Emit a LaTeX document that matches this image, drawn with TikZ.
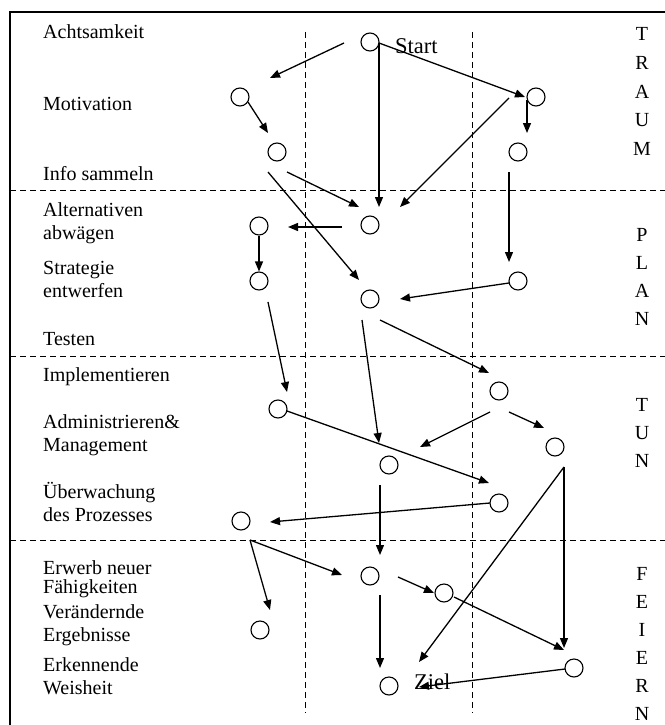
\documentclass[tikz,border=0pt]{standalone}
\usepackage{fontspec}
\setmainfont{Liberation Serif}
\usetikzlibrary{arrows.meta}
\tikzset{
  stage/.style={circle, draw, line width=1.1pt, minimum size=18pt, inner sep=0pt},
  arr/.style={-{Triangle[length=10pt,width=8pt]}, line width=1.3pt},
  sep/.style={dash pattern=on 6pt off 4pt, line width=1pt},
  lbl/.style={anchor=base west, align=left, inner sep=0pt,
              font=\fontsize{20}{23}\selectfont},
  letter/.style={anchor=base, inner sep=0pt, font=\fontsize{20}{23}\selectfont},
  endlbl/.style={anchor=base west, inner sep=0pt, font=\fontsize{22.5}{26}\selectfont},
}
\begin{document}
\begin{tikzpicture}[x=1pt, y=-1pt]
  \useasboundingbox (0,0) rectangle (664,725);
  % frame and phase separators
  \draw[line width=1.2pt] (10,730) -- (10,12) -- (670,12);
  \foreach \y in {190,356,540}
    \draw[sep] (10,\y) -- (670,\y);
  \foreach \x in {305,472}
    \draw[sep] (\x,32) -- (\x,713);

  % activities (anchored at the baseline of the last line)
  \node[lbl] (l-acht) at (43,39) {Achtsamkeit};
  \node[lbl] (l-mot) at (43,110) {Motivation};
  \node[lbl] (l-info) at (43,180) {Info sammeln};
  \node[lbl] (l-alt) at (43,239) {Alternativen\\abwägen};
  \node[lbl] (l-strat) at (43,297) {Strategie\\entwerfen};
  \node[lbl] (l-test) at (43,345) {Testen};
  \node[lbl] (l-impl) at (43,381) {Implementieren};
  \node[lbl] (l-admin) at (43,451) {Administrieren\&\\Management};
  \node[lbl] (l-ueber) at (43,521) {Überwachung\\des Prozesses};
  \node[lbl] (l-erwerb) at (43,593) {Erwerb neuer\\[-4pt]Fähigkeiten};
  \node[lbl] (l-veraend) at (43,641) {Verändernde\\Ergebnisse};
  \node[lbl] (l-erk) at (43,694) {Erkennende\\Weisheit};

  % phases
  \foreach \l [count=\i from 0] in {T,R,A,U,M}
    \node[letter] (traum-\i) at (642,{41+28.5*\i}) {\l};
  \foreach \l [count=\i from 0] in {P,L,A,N}
    \node[letter] (plan-\i) at (642,{241+28.3*\i}) {\l};
  \foreach \l [count=\i from 0] in {T,U,N}
    \node[letter] (tun-\i) at (642,{411+28*\i}) {\l};
  \foreach \l [count=\i from 0] in {F,E,I,E,R,N}
    \node[letter] (feiern-\i) at (642,{580+28*\i}) {\l};

  % stages
  \node[stage] (start) at (370,42) {};
  \node[stage] (mot) at (240,97) {};
  \node[stage] (info) at (277,152) {};
  \node[stage] (rA) at (536,97) {};
  \node[stage] (rB) at (518,152) {};
  \node[stage] (pA) at (370,225) {};
  \node[stage] (pL) at (259,226) {};
  \node[stage] (pS) at (259,281) {};
  \node[stage] (pB) at (370,299) {};
  \node[stage] (pR) at (518,281) {};
  \node[stage] (t1) at (499,391) {};
  \node[stage] (t2) at (278,409) {};
  \node[stage] (t3) at (555,447) {};
  \node[stage] (t4) at (389,465) {};
  \node[stage] (t5) at (499,503) {};
  \node[stage] (t6) at (241,521) {};
  \node[stage] (f1) at (370,576) {};
  \node[stage] (f2) at (444,593) {};
  \node[stage] (f3) at (260,630) {};
  \node[stage] (f4) at (574,668) {};
  \node[stage] (ziel) at (389,686) {};
  \node[endlbl] (start-lbl) at (395,53) {Start};
  \node[endlbl] (ziel-lbl) at (414,689) {Ziel};

  % paths
  \draw[arr] ([shift={(-26,1)}]start.center) -- ([shift={(30,-19)}]mot.center);
  \draw[arr] ([shift={(9,1)}]start.center) -- ([shift={(9,-18)}]pA.center);
  \draw[arr] ([shift={(9,1)}]start.center) -- ([shift={(-11,0)}]rA.center);
  \draw[arr] ([shift={(-9,3)}]rA.center) -- ([shift={(9,-19)}]rB.center);
  \draw[arr] ([shift={(-9,20)}]rB.center) -- ([shift={(-9,-19)}]pR.center);
  \draw[arr] ([shift={(-27,1)}]rA.center) -- ([shift={(30,-18)}]pA.center);
  \draw[arr] ([shift={(8,5)}]mot.center) -- ([shift={(-9,-19)}]info.center);
  \draw[arr] ([shift={(10,20)}]info.center) -- ([shift={(-11,-18)}]pA.center);
  \draw[arr] ([shift={(-9,20)}]info.center) -- ([shift={(-11,-19)}]pB.center);
  \draw[arr] ([shift={(-28,2)}]pA.center) -- ([shift={(29,1)}]pL.center);
  \draw[arr] (pL.south) -- (pS.north);
  \draw[arr] ([shift={(-9,2)}]pR.center) -- ([shift={(30,0)}]pB.center);
  \draw[arr] ([shift={(9,21)}]pS.center) -- ([shift={(9,-17)}]t2.center);
  \draw[arr] ([shift={(-8,21)}]pB.center) -- ([shift={(-10,-22)}]t4.center);
  \draw[arr] ([shift={(10,21)}]pB.center) -- ([shift={(-10,-18)}]t1.center);
  \draw[arr] ([shift={(-9,21)}]t1.center) -- ([shift={(31,-18)}]t4.center);
  \draw[arr] ([shift={(10,21)}]t1.center) -- ([shift={(-11,-19)}]t3.center);
  \draw[arr] ([shift={(9,2)}]t2.center) -- ([shift={(-10,-20)}]t5.center);
  \draw[arr] ([shift={(-9,0)}]t5.center) -- ([shift={(29,1)}]t6.center);
  \draw[arr] ([shift={(-9,20)}]t4.center) -- ([shift={(10,-21)}]f1.center);
  \draw[arr] ([shift={(9,20)}]t3.center) -- ([shift={(-10,-20)}]f4.center);
  \draw[arr] ([shift={(9,20)}]t3.center) -- ([shift={(30,-24)}]ziel.center);
  \draw[arr] ([shift={(9,19)}]t6.center) -- ([shift={(10,-20)}]f3.center);
  \draw[arr] ([shift={(9,19)}]t6.center) -- ([shift={(-28,-1)}]f1.center);
  \draw[arr] ([shift={(28,1)}]f1.center) -- ([shift={(-10,0)}]f2.center);
  \draw[arr] ([shift={(10,4)}]f2.center) -- ([shift={(-10,-18)}]f4.center);
  \draw[arr] ([shift={(10,19)}]f1.center) -- ([shift={(-9,-18)}]ziel.center);
  \draw[arr] ([shift={(-9,1)}]f4.center) -- ([shift={(30,1)}]ziel.center);
\end{tikzpicture}
\end{document}
